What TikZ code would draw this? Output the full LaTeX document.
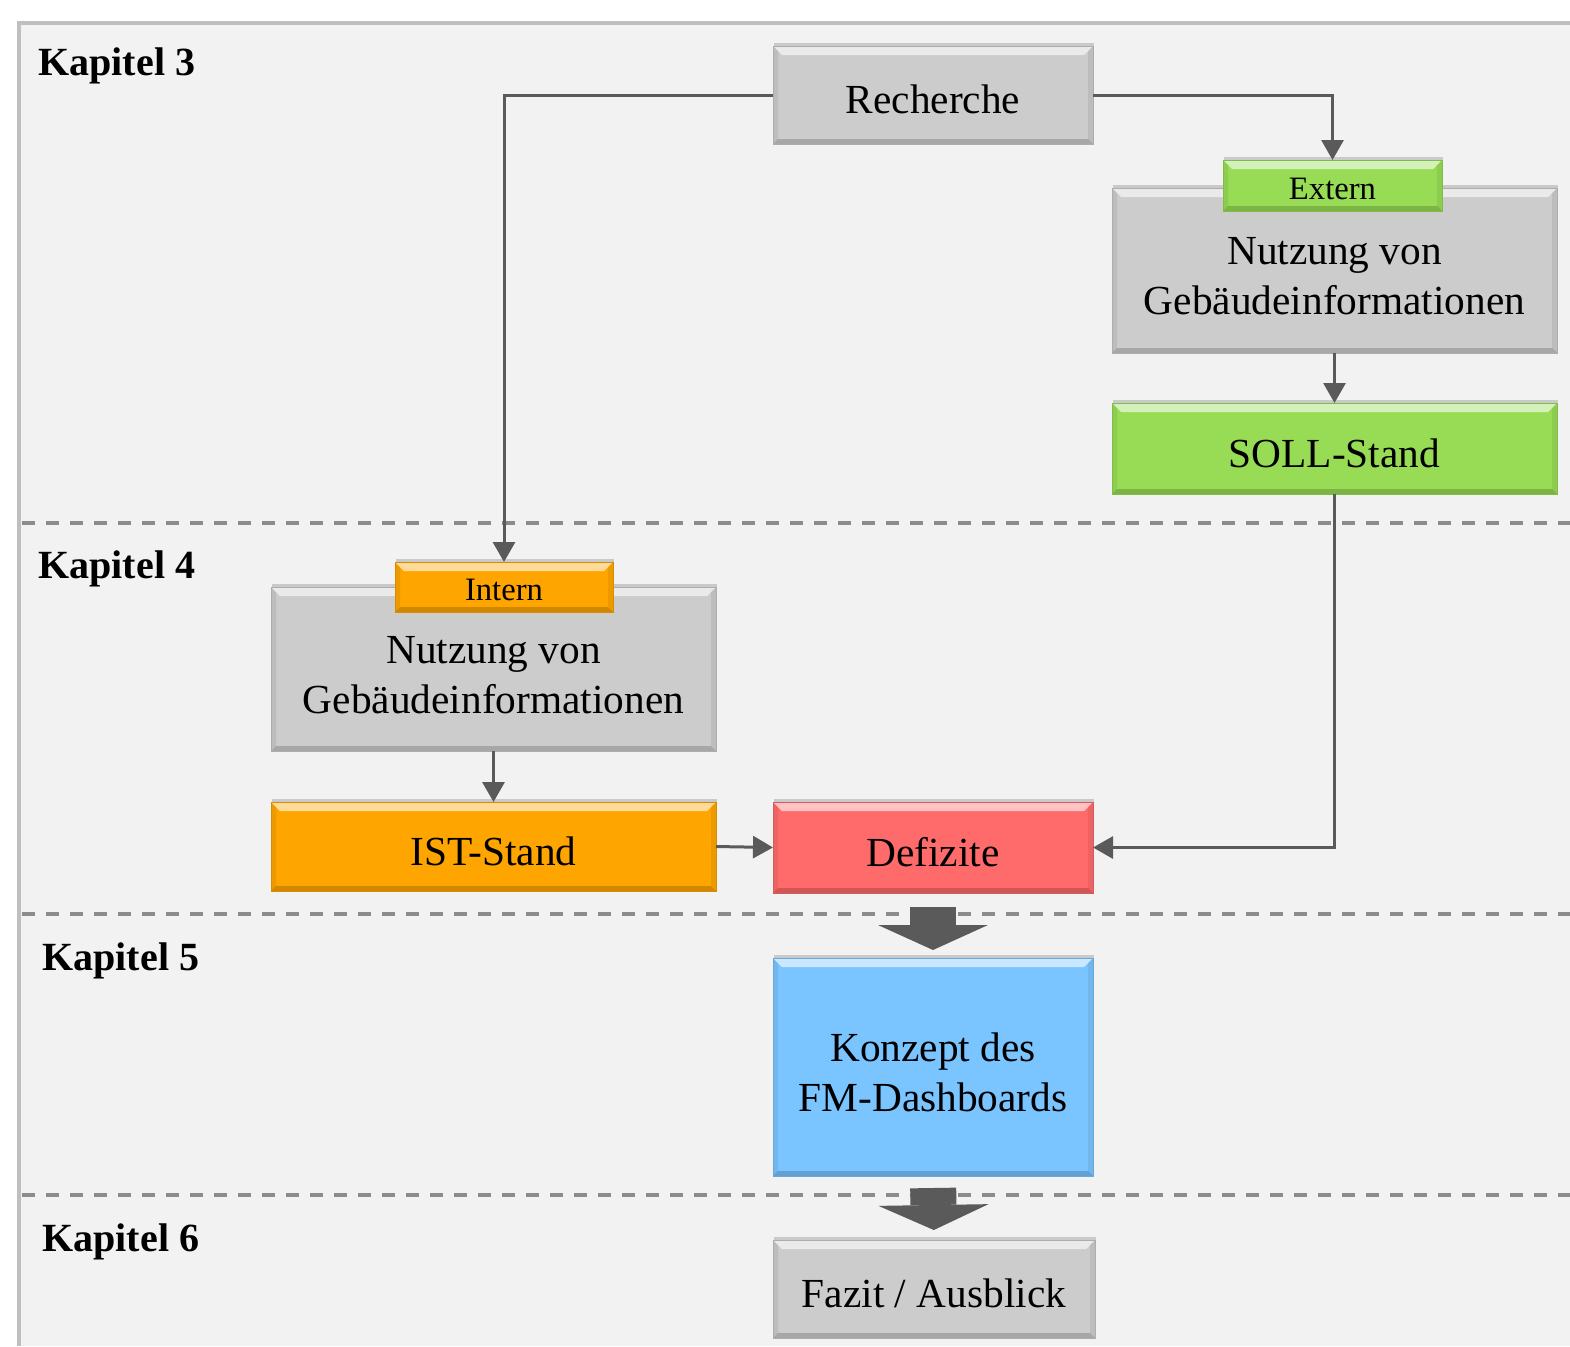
\documentclass[tikz,border=0pt]{standalone}
\usepackage{fontspec}
\setmainfont{Liberation Serif}
\usetikzlibrary{arrows.meta,shadows}

\definecolor{boxgray}{HTML}{CCCCCC}
\definecolor{boxgreen}{HTML}{98DC55}
\definecolor{boxorange}{HTML}{FFA500}
\definecolor{boxred}{HTML}{FF6A6A}
\definecolor{boxblue}{HTML}{7AC4FF}
\definecolor{linegray}{HTML}{5A5A5A}
\definecolor{dashgray}{HTML}{8C8C8C}
\definecolor{framegray}{HTML}{BFBFBF}
\definecolor{bggray}{HTML}{F2F2F2}

% two lines of box text, set a bit lower
\newcommand\twolines[2]{\begin{tabular}{@{}c@{}}\rule{0pt}{39.75pt}#1\\#2\end{tabular}}

\tikzset{every picture/.style={line width=0.75pt}}
\tikzset{
  bevel/.style={draw=#1!85!black, line width=0.6pt, fill=#1, inner sep=0pt, outer sep=0pt,
    align=center,
    drop shadow={shadow xshift=1pt, shadow yshift=2.5pt, opacity=0.35},
    path picture={
      \fill[white, opacity=0.6] (path picture bounding box.north west) -- (path picture bounding box.north east)
        -- ([shift={(-6.75pt,-6.75pt)}]path picture bounding box.north east) -- ([shift={(6.75pt,-6.75pt)}]path picture bounding box.north west) -- cycle;
      \fill[black, opacity=0.18] (path picture bounding box.south west) -- (path picture bounding box.south east)
        -- ([shift={(-3.75pt,3.75pt)}]path picture bounding box.south east) -- ([shift={(3.75pt,3.75pt)}]path picture bounding box.south west) -- cycle;
      \fill[black, opacity=0.07] (path picture bounding box.north west) -- ([shift={(3.75pt,-3.75pt)}]path picture bounding box.north west)
        -- ([shift={(3.75pt,3.75pt)}]path picture bounding box.south west) -- (path picture bounding box.south west) -- cycle;
      \fill[black, opacity=0.07] (path picture bounding box.north east) -- ([shift={(-3.75pt,-3.75pt)}]path picture bounding box.north east)
        -- ([shift={(-3.75pt,3.75pt)}]path picture bounding box.south east) -- (path picture bounding box.south east) -- cycle;
    }},
  box/.style={bevel=#1, font=\fontsize{31}{37.5}\selectfont, execute at begin node={\rule{0pt}{28.5pt}}},
  tallbox/.style={bevel=#1, font=\fontsize{31}{37.5}\selectfont},
  tag/.style={bevel=#1, font=\fontsize{24.5}{29}\selectfont, execute at begin node={\rule{0pt}{20.7pt}}},
  conn/.style={draw=linegray, line width=2.25pt, -{Triangle[length=15pt,width=16.5pt]}},
  blockarrow/.style={draw=linegray, line width=34.5pt, -{Triangle[length=18.75pt,width=82.5pt,line width=0pt]}},
  kap/.style={font=\bfseries\fontsize{30}{36}\selectfont, inner sep=0pt, anchor=base west},
  sepline/.style={draw=dashgray, line width=3pt, dash pattern=on 10pt off 8pt},
}

\begin{document}
\begin{tikzpicture}[x=0.75pt,y=0.75pt,yscale=-1,xscale=1]
\useasboundingbox (0,0) rectangle (1570,1346);

% Frame
\fill[bggray] (19,23) rectangle (1570,1346);
\draw[framegray, line width=3pt] (19,1346) -- (19,23) -- (1570,23);

% Chapter separators
\draw[sepline] (22,523) -- (1570,523);
\draw[sepline] (22,914) -- (1570,914);
\draw[sepline] (22,1195) -- (1570,1195);

% Chapter labels
\node[kap] (kap3) at (38,75) {Kapitel 3};
\node[kap] (kap4) at (38,578) {Kapitel 4};
\node[kap] (kap5) at (42,970) {Kapitel 5};
\node[kap] (kap6) at (42,1251) {Kapitel 6};

% Boxes
\node[box=boxgray, minimum width=240pt, minimum height=73.5pt] (rech) at (933,95) {Recherche};
\node[tallbox=boxgray, minimum width=333.75pt, minimum height=123.75pt] (nutzE) at (1334.5,270.5) {\twolines{Nutzung von}{Gebäudeinformationen}};
\node[tag=boxgreen, minimum width=164.25pt, minimum height=38.25pt] (tagE) at (1332.5,185.5) {Extern};
\node[box=boxgreen, minimum width=333.75pt, minimum height=68.25pt] (soll) at (1334.5,448.5) {SOLL-Stand};
\node[tallbox=boxgray, minimum width=333.75pt, minimum height=123pt] (nutzI) at (493.5,669) {\twolines{Nutzung von}{Gebäudeinformationen}};
\node[tag=boxorange, minimum width=163.5pt, minimum height=37.5pt] (tagI) at (504,587) {Intern};
\node[box=boxorange, minimum width=333.75pt, minimum height=66.75pt] (ist) at (493.5,846.5) {IST-Stand};
\node[box=boxred, minimum width=240pt, minimum height=68.25pt] (def) at (933,847.5) {Defizite};
\node[tallbox=boxblue, minimum width=240pt, minimum height=163.5pt] (konz) at (933,1067) {\twolines{Konzept des}{FM-Dashboards}};
\node[box=boxgray, minimum width=241.5pt, minimum height=73.5pt] (fazit) at (934,1289) {Fazit / Ausblick};

% Connectors
\draw[conn] (rech.west) -| (tagI.north);
\draw[conn] (rech.east) -| (tagE.north);
\draw[conn] (nutzE.south) -- (soll.north);
\draw[conn] (soll.south) |- (def.east);
\draw[conn] (nutzI.south) -- (ist.north);
\draw[conn] (ist.east) -- (def.west);

% Block arrows
\draw[blockarrow, shorten <=10.5pt, shorten >=6pt] (def.south) -- (konz.north);
\draw[blockarrow, shorten <=9pt, shorten >=7.5pt] (konz.south) -- (fazit.north);

\end{tikzpicture}
\end{document}
